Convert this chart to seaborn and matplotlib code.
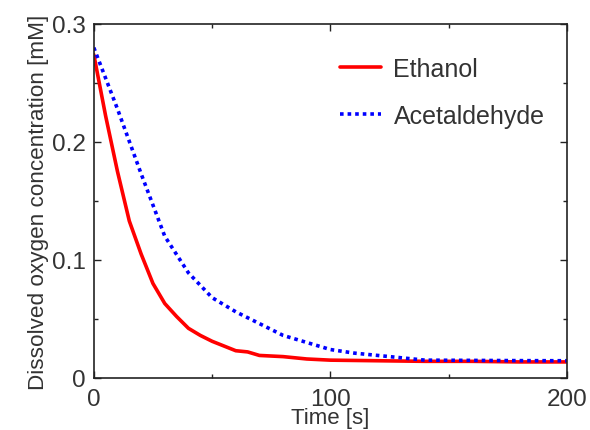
import matplotlib
matplotlib.use("Agg")
import matplotlib.pyplot as plt
import seaborn as sns
import pandas as pd

sns.set_theme(style="ticks")
plt.rcParams['font.family'] = ['Liberation Sans', 'DejaVu Sans']

time_eth = [0, 5, 10, 15, 20, 25, 30, 35, 40, 45, 50, 55, 60, 65, 70, 80, 90, 100, 120, 140, 160, 180, 200]
ethanol = [0.274, 0.222, 0.175, 0.133, 0.105, 0.080, 0.063, 0.052, 0.042, 0.036, 0.031, 0.027, 0.023, 0.022, 0.019, 0.018, 0.016, 0.015, 0.0145, 0.014, 0.014, 0.0135, 0.0135]
time_ace = [0, 10, 20, 30, 40, 50, 60, 70, 80, 90, 100, 110, 120, 130, 140, 160, 180, 200]
acetaldehyde = [0.280, 0.228, 0.173, 0.120, 0.089, 0.068, 0.056, 0.046, 0.036, 0.030, 0.024, 0.021, 0.019, 0.017, 0.015, 0.0148, 0.0146, 0.0145]
x_ticks = [0, 100, 200]
x_tick_labels = ["0", "100", "200"]
y_ticks = [0, 0.1, 0.2, 0.3]
y_tick_labels = ["0", "0.1", "0.2", "0.3"]

df_eth = pd.DataFrame({"Time": time_eth, "Conc": ethanol})
df_ace = pd.DataFrame({"Time": time_ace, "Conc": acetaldehyde})

fig = plt.figure(figsize=(5.9, 4.31), dpi=100)
ax = fig.add_axes([0.159, 0.121, 0.802, 0.821])

sns.lineplot(data=df_eth, x="Time", y="Conc", ax=ax, color="#ff0000", lw=2.6, label="Ethanol")
sns.lineplot(data=df_ace, x="Time", y="Conc", ax=ax, color="#0000ff", lw=2.6, linestyle=(0, (1, 1.1)), label="Acetaldehyde")

ax.set_xlim(0, 200)
ax.set_ylim(0, 0.3)
ax.set_xticks(x_ticks, x_tick_labels)
ax.set_yticks(y_ticks, y_tick_labels)
ax.set_xticks([50, 150], minor=True)
ax.set_yticks([0.05, 0.15, 0.25], minor=True)
ax.tick_params(which="both", direction="in", top=True, right=True, width=1, colors="#222222", labelcolor="#333333")
ax.tick_params(which="major", length=5, labelsize=17.5)
ax.tick_params(axis="x", which="major", pad=7)
ax.tick_params(axis="y", which="major", pad=6)
ax.tick_params(which="minor", length=3)
for s in ax.spines.values():
    s.set_linewidth(1.2)
    s.set_color("#222222")

ax.set_xlabel("Time [s]", fontsize=16, color="#333333", labelpad=-1.5)
ax.set_ylabel("Dissolved oxygen concentration [mM]", fontsize=16.2, color="#333333", labelpad=2)

leg = ax.legend(loc="upper right", frameon=False, fontsize=18, handlelength=1.65, handletextpad=0.5,
                labelspacing=0.9, bbox_to_anchor=(1.0, 0.97))
for t in leg.get_texts():
    t.set_color("#333333")

fig.savefig("out.png", dpi=100)
